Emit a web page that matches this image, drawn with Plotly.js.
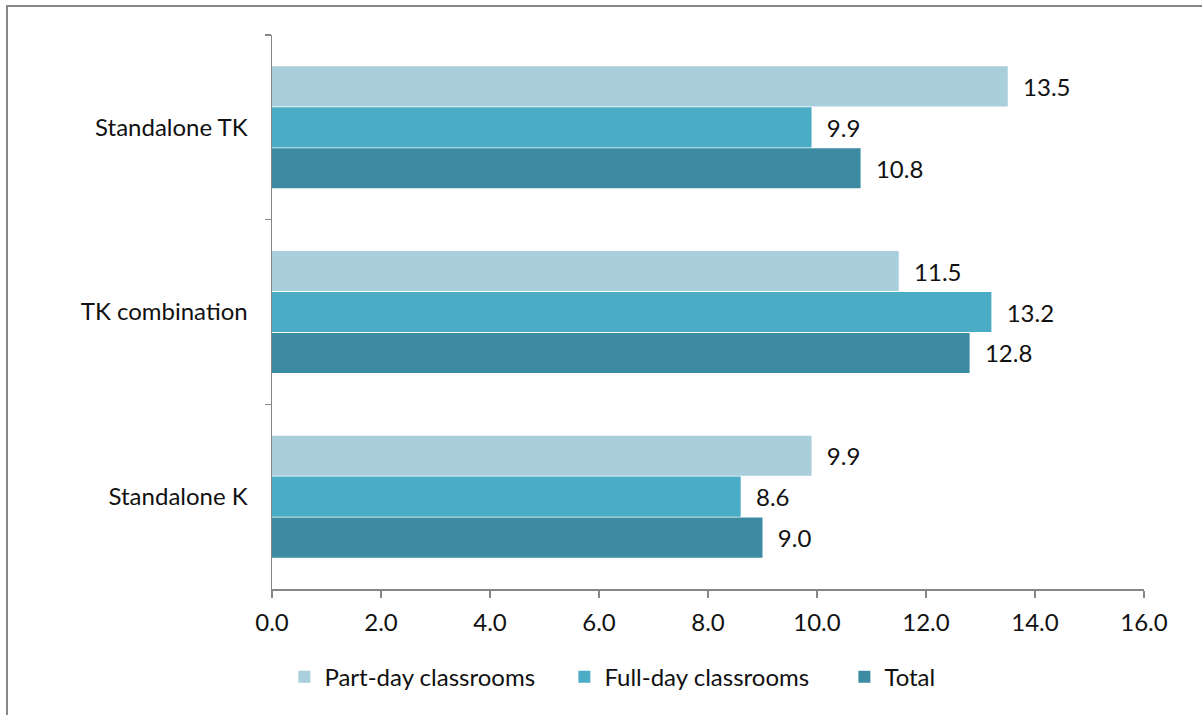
<!DOCTYPE html>
<html>
<head>
<meta charset="utf-8">
<script src="https://cdn.plot.ly/plotly-3.0.1.min.js"></script>
<style>
  html, body { margin: 0; padding: 0; background: #fff; }
  #wrap { position: relative; width: 1202px; height: 715px; overflow: hidden; }
  #chart { position: absolute; left: 0; top: 0; width: 1202px; height: 715px; }
  #frame { position: absolute; left: 6px; top: 5px; width: 1300px; height: 800px;
           border-left: 2px solid #878787; border-top: 2px solid #878787; pointer-events: none; }
</style>
</head>
<body>
<div id="wrap">
  <div id="chart"></div>
  <div id="frame"></div>
</div>
<script>
const categories = ['Standalone TK', 'TK combination', 'Standalone K'];
const seriesNames = ['Part-day classrooms', 'Full-day classrooms', 'Total'];
const partDay = [13.5, 11.5, 9.9];
const fullDay = [9.9, 13.2, 8.6];
const total = [10.8, 12.8, 9.0];
const xTickVals = [0, 2, 4, 6, 8, 10, 12, 14, 16];
const xTickText = ['0.0', '2.0', '4.0', '6.0', '8.0', '10.0', '12.0', '14.0', '16.0'];

const colors = ['#A9CFDD', '#4BACC6', '#3C8BA3'];
const allValues = [partDay, fullDay, total];
const FONT = 'Lato, "Open Sans", sans-serif';
const FS = 24;

const traces = allValues.map((vals, i) => ({
  type: 'bar',
  orientation: 'h',
  name: seriesNames[i],
  y: categories,
  x: vals,
  marker: { color: colors[i] },
  text: vals.map(v => v.toFixed(1)),
  texttemplate: '\u00a0\u00a0%{text}',
  textposition: 'outside',
  textfont: { family: FONT, size: FS, color: '#111' },
  cliponaxis: false,
  hoverinfo: 'x+name'
}));

const layout = {
  width: 1202, height: 715,
  margin: { l: 272, r: 58, t: 35, b: 126 },
  paper_bgcolor: '#fff', plot_bgcolor: '#fff',
  barmode: 'group',
  bargap: 0.335,
  bargroupgap: 0.02,
  font: { family: FONT, size: FS, color: '#111' },
  showlegend: true,
  legend: {
    orientation: 'h', x: 0.0142, xanchor: 'left', y: -0.159, yanchor: 'middle',
    entrywidth: 235, entrywidthmode: 'pixels',
    font: { family: FONT, size: FS, color: '#111' },
    traceorder: 'normal'
  },
  xaxis: {
    range: [0, 16], tickvals: xTickVals, ticktext: xTickText,
    showgrid: false, zeroline: false,
    showline: true, linecolor: '#878787', linewidth: 1.5,
    ticks: 'outside', ticklen: 7, tickcolor: '#878787', tickwidth: 1.5,
    ticklabelstandoff: 5,
    tickfont: { family: FONT, size: FS, color: '#111' }
  },
  yaxis: {
    type: 'category', categoryorder: 'array', categoryarray: categories,
    autorange: 'reversed',
    showgrid: false, zeroline: false,
    showline: true, linecolor: '#878787', linewidth: 1.5,
    ticks: 'outside', tickson: 'boundaries', ticklen: 6, tickcolor: '#878787', tickwidth: 1.5,
    ticklabelstandoff: 18,
    tickfont: { family: FONT, size: FS, color: '#111' }
  }
};

Plotly.newPlot('chart', traces, layout, { displayModeBar: false, staticPlot: true });
</script>
</body>
</html>
